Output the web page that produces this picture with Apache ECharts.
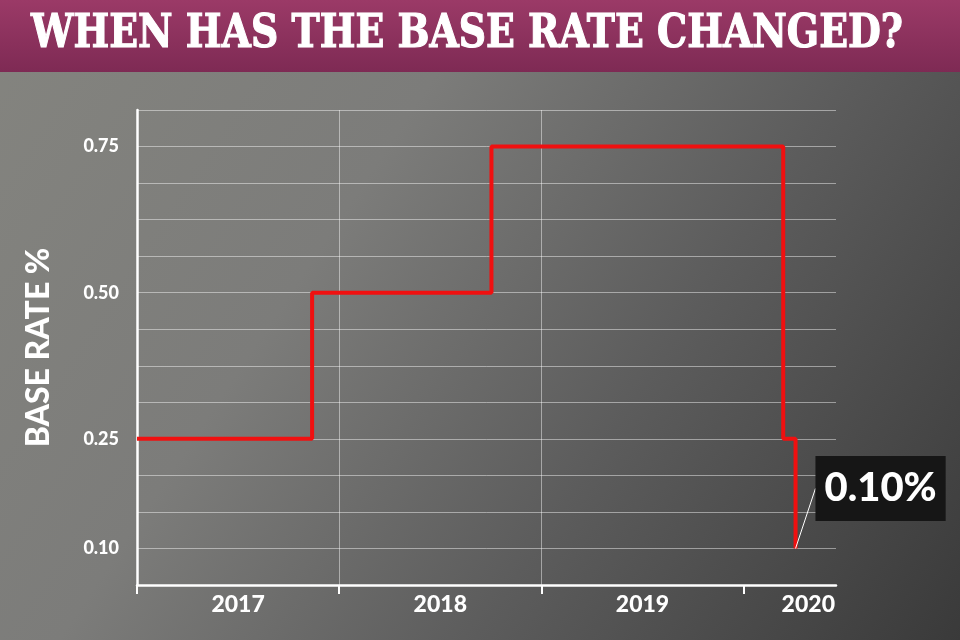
<!DOCTYPE html>
<html>
<head>
<meta charset="utf-8">
<script src="https://cdn.jsdelivr.net/npm/echarts@6/dist/echarts.min.js"></script>
<style>
    html, body { margin: 0; padding: 0; }
    #main { width: 960px; height: 640px; }
</style>
</head>
<body>
<div id="main"></div>
<script>
// tick rows on the y axis (the chart is not drawn to a linear scale)
var yTicks = ['', '0.10', '', '', '0.25', '', '', '', '0.50', '', '', '', '0.75', ''];
// year of each rate change
var changeYears = [2017.0, 2017.866, 2018.753, 2020.196, 2020.257];
var rates = ['0.25', '0.50', '0.75', '0.25', '0.10'];
var yearTicks = [2017, 2018, 2019, 2020];
var yearLabelAt = [2017.5, 2018.5, 2019.5, 2020.32];
var xMin = 2017, xMax = 2020.457;

var titleText = 'WHEN HAS THE BASE RATE CHANGED?';
var titleFont = 'bold 46px "DejaVu Serif"';

// squeeze the slab title so it fits the banner
var cv = document.createElement('canvas').getContext('2d');
cv.font = titleFont;
var titleScale = 872 / cv.measureText(titleText).width;

var lineData = changeYears.map(function (x, i) {
    var item = { value: [x, rates[i]] };
    if (i === changeYears.length - 1) {
        item.label = { show: true };
    }
    return item;
});

var myChart = echarts.init(document.getElementById('main'));

option = {
    animation: false,
    graphic: [
        {
            type: 'rect',
            z: -100,
            shape: { x: 0, y: 0, width: 960, height: 640 },
            style: {
                fill: new echarts.graphic.LinearGradient(0, 0, 1, 1, [
                    { offset: 0, color: '#84847f' },
                    { offset: 0.35, color: '#7c7c7a' },
                    { offset: 0.65, color: '#5c5c5c' },
                    { offset: 1, color: '#3a3a3a' }
                ])
            }
        },
        {
            type: 'rect',
            z: 100,
            shape: { x: 0, y: 0, width: 960, height: 72 },
            style: {
                fill: new echarts.graphic.LinearGradient(0, 0, 0, 1, [
                    { offset: 0, color: '#9b3a67' },
                    { offset: 1, color: '#7e2a54' }
                ])
            }
        },
        {
            type: 'text',
            z: 101,
            x: 467,
            y: 35,
            scaleX: titleScale,
            style: {
                text: titleText,
                font: titleFont,
                fill: '#ffffff',
                stroke: '#ffffff',
                lineWidth: 1.2,
                align: 'center',
                verticalAlign: 'middle'
            }
        }
    ],
    grid: {
        left: 137,
        right: 124,
        top: 110,
        bottom: 55
    },
    xAxis: {
        type: 'value',
        min: xMin,
        max: xMax,
        interval: 1,
        axisLine: { show: true, lineStyle: { color: '#ffffff', width: 2.5 } },
        axisTick: {
            show: true,
            customValues: yearTicks,
            length: 9,
            lineStyle: { color: '#ffffff', width: 2 }
        },
        axisLabel: {
            customValues: yearLabelAt,
            formatter: function (v) { return String(Math.floor(v)); },
            color: '#ffffff',
            fontFamily: 'Lato',
            fontWeight: 900,
            fontSize: 23,
            margin: 8
        },
        splitLine: {
            show: true,
            showMinLine: false,
            showMaxLine: false,
            lineStyle: { color: 'rgba(255,255,255,0.45)', width: 1 }
        }
    },
    yAxis: {
        type: 'category',
        data: yTicks,
        boundaryGap: false,
        name: 'BASE RATE %',
        nameLocation: 'middle',
        nameRotate: 90,
        nameGap: 82,
        nameTextStyle: {
            color: '#ffffff',
            fontFamily: 'Lato',
            fontWeight: 900,
            fontSize: 32
        },
        axisLine: { show: true, lineStyle: { color: '#ffffff', width: 2.5 } },
        axisTick: { show: false },
        axisLabel: {
            interval: 0,
            color: '#ffffff',
            fontFamily: 'Lato',
            fontWeight: 900,
            fontSize: 18,
            margin: 18
        },
        splitLine: {
            show: true,
            interval: 0,
            lineStyle: { color: 'rgba(255,255,255,0.45)', width: 1 }
        }
    },
    series: [
        {
            type: 'line',
            step: 'start',
            data: lineData,
            symbol: 'circle',
            symbolSize: 0,
            showSymbol: true,
            lineStyle: { color: '#f01010', width: 4 },
            itemStyle: { color: '#f01010' },
            label: {
                show: false,
                position: 'inside',
                formatter: '0.10%',
                color: '#ffffff',
                fontFamily: 'Lato',
                fontWeight: 900,
                fontSize: 40,
                lineHeight: 40,
                backgroundColor: '#161616',
                padding: [13, 9, 12, 9]
            },
            labelLayout: { dx: 85, dy: -60 },
            labelLine: {
                show: true,
                lineStyle: { color: '#ffffff', width: 1 }
            }
        }
    ]
};
myChart.setOption(option);
</script>
</body>
</html>
